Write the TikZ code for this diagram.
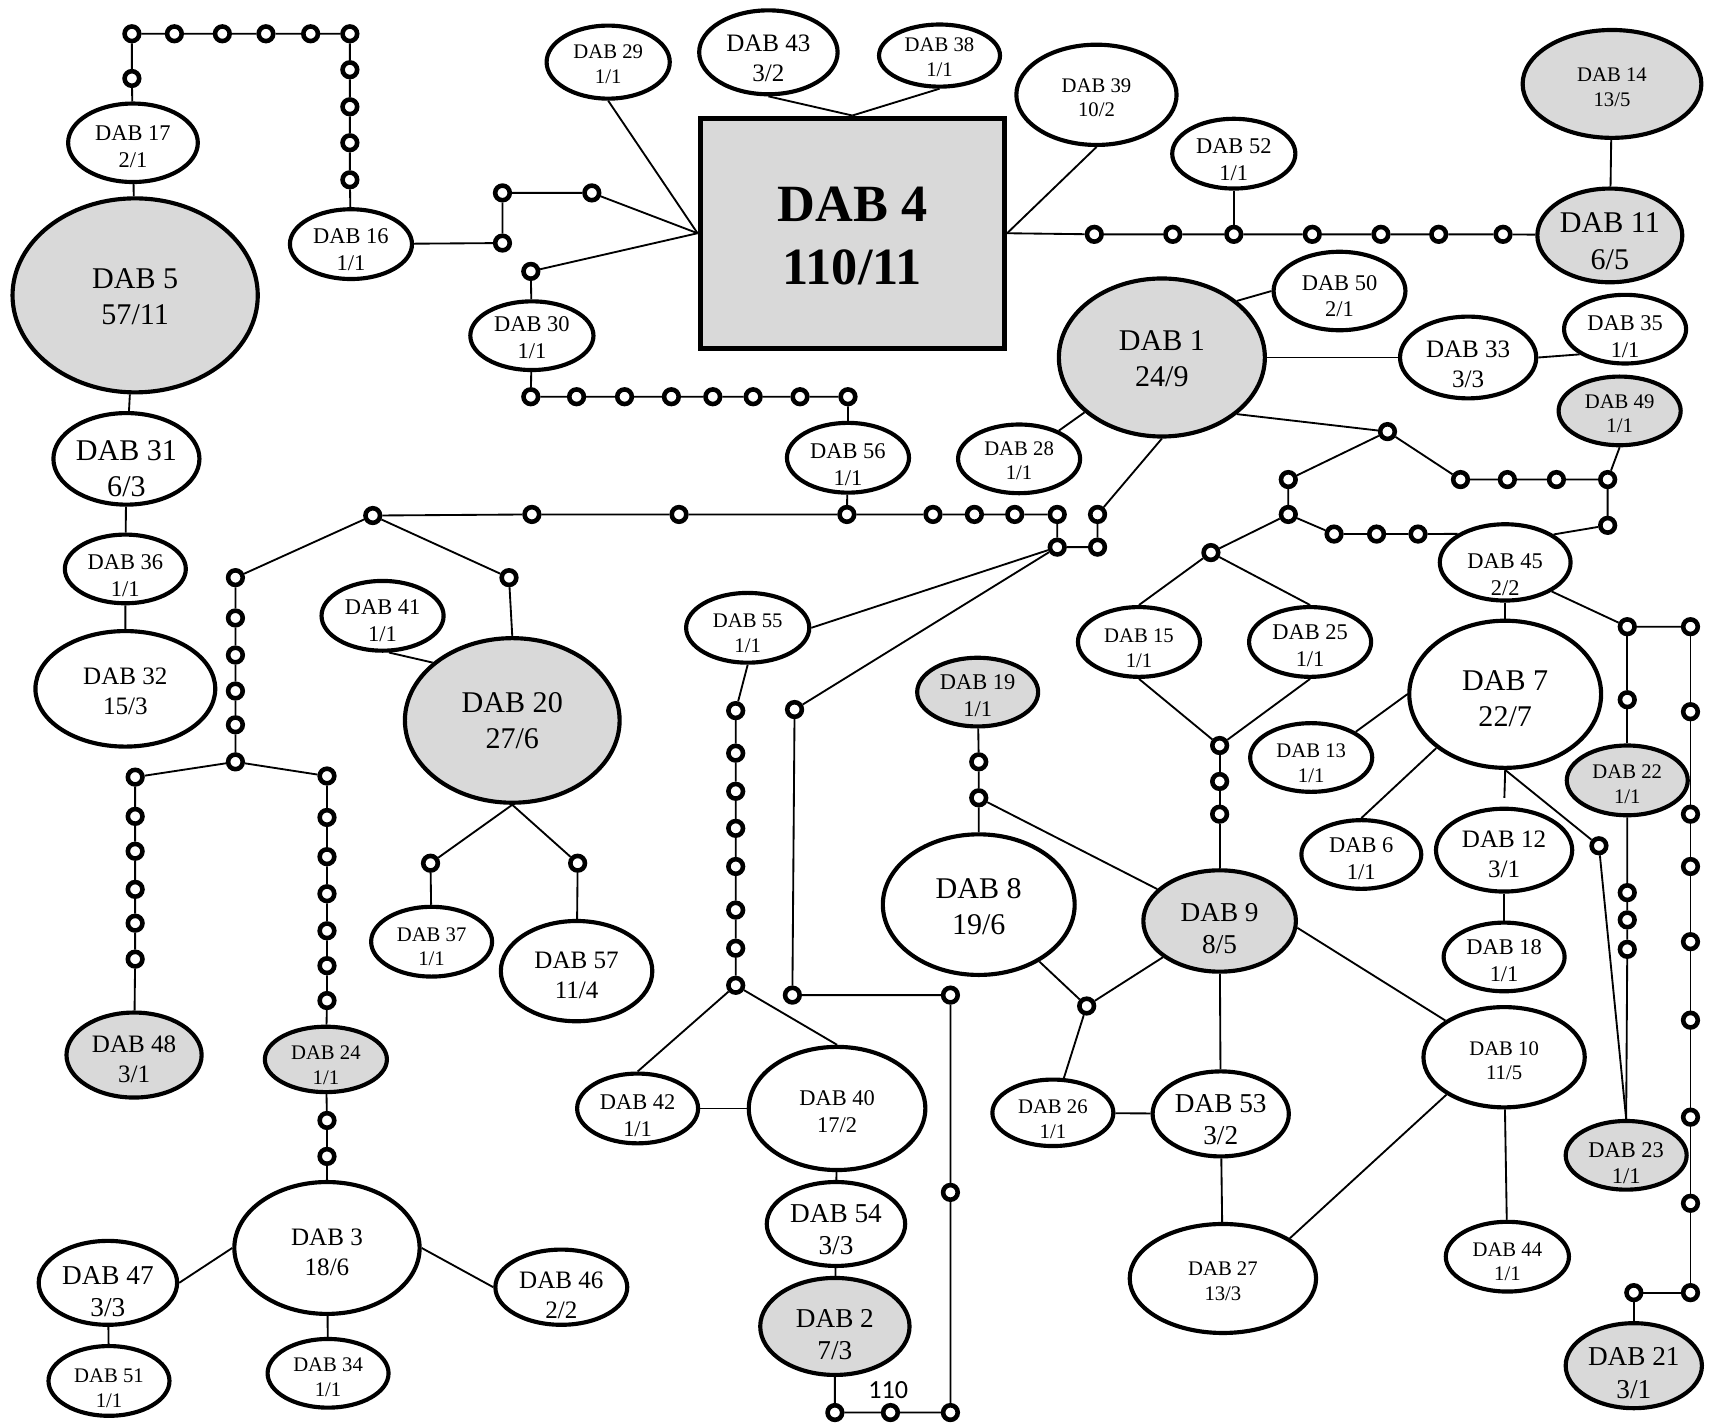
\documentclass[tikz,border=0pt]{standalone}
\usepackage{fontspec}
\setmainfont{Liberation Serif}
\newfontfamily\calib{Carlito}
\usetikzlibrary{shapes.geometric,backgrounds}
\definecolor{gfill}{RGB}{217,217,217}
% two centred lines; optional argument lowers the text (in pt)
\newcommand\tx[3][0]{\makebox[0pt]{\raisebox{\dimexpr0.5\baselineskip-0.335em-#1pt\relax}[0pt][0pt]{#2}}\makebox[0pt]{\raisebox{\dimexpr-0.5\baselineskip-0.335em-#1pt\relax}[0pt][0pt]{#3}}}
\begin{document}
\begin{tikzpicture}[x=0.5pt,y=-0.5pt,
  el/.style 2 args={ellipse, draw, line width=1.9pt, fill=white, inner sep=0pt,
     minimum width={(#1-3)*0.5pt}, minimum height={(#2-3)*0.5pt}},
  gr/.style={fill=gfill},
  mv/.style={circle, draw, line width=2.1pt, fill=white, inner sep=0pt, minimum size=6.7pt},
  ln/.style={line width=0.85pt},
  fA/.style={font=\fontsize{9.5}{11.4}\selectfont},
  fB/.style={font=\fontsize{10.3}{12.3}\selectfont},
  fC/.style={font=\fontsize{11.5}{13.8}\selectfont},
  fD/.style={font=\fontsize{12.5}{14.8}\selectfont},
  fE/.style={font=\fontsize{13.8}{16.6}\selectfont}]
\useasboundingbox (0,0) rectangle (1568,1310);

% ---------- haplotype nodes ----------
\node[draw, line width=2.3pt, fill=gfill, minimum width=139.7pt, minimum height=105.7pt, inner sep=0pt,
      font=\bfseries\fontsize{24}{29}\selectfont] (n4) at (782,214) {\tx[1]{DAB 4}{110/11}};
\node[el={122}{75},fB] (n17) at (122,131) {\tx[1.75]{DAB 17}{2/1}};
\node[el={228}{181},fE,gr] (n5) at (124,271) {\tx[0.5]{DAB 5}{57/11}};
\node[el={115}{67},fB] (n16) at (322,224) {\tx[2.5]{DAB 16}{1/1}};
\node[el={116}{66},fB] (n30) at (488,308) {\tx[1]{DAB 30}{1/1}};
\node[el={116}{70},fA] (n29) at (558,57) {\tx[0.75]{DAB 29}{1/1}};
\node[el={130}{80},fC] (n43) at (705,48) {\tx[2.5]{DAB 43}{3/2}};
\node[el={114}{60},fA] (n38) at (862,51) {\tx[0.75]{DAB 38}{1/1}};
\node[el={150}{95},fA] (n39) at (1006,87) {\tx[1.25]{DAB 39}{10/2}};
\node[el={116}{67},fB] (n52) at (1132,141) {\tx[2.75]{DAB 52}{1/1}};
\node[el={167}{102},fA,gr] (n14) at (1479,77) {\tx[1.5]{DAB 14}{13/5}};
\node[el={136}{89},fE,gr] (n11) at (1477,216) {\tx[2.5]{DAB 11}{6/5}};
\node[el={124}{75},fB] (n50) at (1229,267) {\tx[2.25]{DAB 50}{2/1}};
\node[el={192}{148},fE,gr] (n1) at (1066,328) {\tx[0.5]{DAB 1}{24/9}};
\node[el={128}{78},fC] (n33) at (1347,328) {\tx[3]{DAB 33}{3/3}};
\node[el={115}{66},fB] (n35) at (1491,302) {\tx[3.5]{DAB 35}{1/1}};
\node[el={115}{66},fA,gr] (n49) at (1486,377) {\tx[1.25]{DAB 49}{1/1}};
\node[el={115}{67},fB] (n56) at (778,420) {\tx[3]{DAB 56}{1/1}};
\node[el={115}{66},fA] (n28) at (935,421) {\tx[0.75]{DAB 28}{1/1}};
\node[el={137}{87},fE] (n31) at (116,421) {\tx[4.25]{DAB 31}{6/3}};
\node[el={114}{66},fB] (n36) at (115,522) {\tx[3]{DAB 36}{1/1}};
\node[el={168}{109},fC] (n32) at (115,632) {\tx[1]{DAB 32}{15/3}};
\node[el={115}{67},fB] (n41) at (351,565) {\tx[2.25]{DAB 41}{1/1}};
\node[el={200}{154},fE,gr] (n20) at (470,661) {\tx[0]{DAB 20}{27/6}};
\node[el={116}{67},fA] (n55) at (686,576) {\tx[2.25]{DAB 55}{1/1}};
\node[el={123}{73},fB] (n45) at (1381,516) {\tx[5.5]{DAB 45}{2/2}};
\node[el={115}{67},fA] (n15) at (1045,589) {\tx[2.75]{DAB 15}{1/1}};
\node[el={115}{67},fB] (n25) at (1202,589) {\tx[1.5]{DAB 25}{1/1}};
\node[el={179}{138},fE] (n7) at (1381,637) {\tx[1.75]{DAB 7}{22/7}};
\node[el={114}{66},fB,gr] (n19) at (897,635) {\tx[1.5]{DAB 19}{1/1}};
\node[el={115}{66},fA] (n13) at (1203,695) {\tx[2.5]{DAB 13}{1/1}};
\node[el={114}{67},fA,gr] (n22) at (1493,716) {\tx[1.75]{DAB 22}{1/1}};
\node[el={113}{66},fB] (n6) at (1249,784) {\tx[1.75]{DAB 6}{1/1}};
\node[el={128}{79},fC] (n12) at (1380,780) {\tx[2]{DAB 12}{3/1}};
\node[el={114}{66},fB] (n18) at (1380,878) {\tx[1.5]{DAB 18}{1/1}};
\node[el={179}{132},fE] (n8) at (898,830) {\tx[1]{DAB 8}{19/6}};
\node[el={143}{96},fD,gr] (n9) at (1119,845) {\tx[3.25]{DAB 9}{8/5}};
\node[el={114}{67},fA] (n37) at (396,864) {\tx[2.25]{DAB 37}{1/1}};
\node[el={142}{95},fC] (n57) at (529,891) {\tx[1.75]{DAB 57}{11/4}};
\node[el={127}{81},fC,gr] (n48) at (123,968) {\tx[1.75]{DAB 48}{3/1}};
\node[el={115}{63},fA,gr] (n24) at (299,972) {\tx[2.75]{DAB 24}{1/1}};
\node[el={151}{95},fA] (n10) at (1380,970) {\tx[1.5]{DAB 10}{11/5}};
\node[el={114}{67},fB] (n42) at (585,1017) {\tx[3.25]{DAB 42}{1/1}};
\node[el={165}{116},fB] (n40) at (768,1017) {\tx[1.5]{DAB 40}{17/2}};
\node[el={114}{64},fA] (n26) at (966,1021) {\tx[2.75]{DAB 26}{1/1}};
\node[el={128}{81},fD] (n53) at (1120,1022) {\tx[2.5]{DAB 53}{3/2}};
\node[el={114}{66},fB,gr] (n23) at (1492,1060) {\tx[3.5]{DAB 23}{1/1}};
\node[el={130}{80},fD] (n54) at (767,1123) {\tx[2.5]{DAB 54}{3/3}};
\node[el={173}{124},fC] (n3) at (300,1145) {\tx[2]{DAB 3}{18/6}};
\node[el={116}{67},fA] (n44) at (1383,1153) {\tx[2.25]{DAB 44}{1/1}};
\node[el={174}{103},fA] (n27) at (1122,1173) {\tx[1]{DAB 27}{13/3}};
\node[el={130}{80},fD] (n47) at (99,1177) {\tx[4]{DAB 47}{3/3}};
\node[el={124}{72},fC] (n46) at (515,1181) {\tx[3.5]{DAB 46}{2/2}};
\node[el={140}{92},fD,gr] (n2) at (766,1217) {\tx[3.75]{DAB 2}{7/3}};
\node[el={128}{81},fD,gr] (n21) at (1499,1253) {\tx[3.25]{DAB 21}{3/1}};
\node[el={114}{66},fA] (n34) at (301,1260) {\tx[1.75]{DAB 34}{1/1}};
\node[el={114}{67},fA] (n51) at (100,1267) {\tx[3.25]{DAB 51}{1/1}};
\node[font=\calib\fontsize{12}{14}\selectfont] (lab) at (815,1275) {110};

% ---------- median vectors ----------
\foreach \n/\x/\y in {t1/121/72,t2/121/31,t3/160/31,t4/204/31,t5/244/31,t6/285/31,t7/321/31,
  t8/321/64,t9/321/98,t10/321/131,t11/321/165,
  u1/461/223,u2/461/177,u3/543/177,u4/487/249,
  v1/487/364,v2/529/364,v3/573/364,v4/616/364,v5/654/364,v6/691/364,v7/734/364,v8/778/364,
  w1/342/473,w2/488/472,w3/623/472,w4/777/472,w5/856/472,w6/894/472,w7/931/472,w8/970/472,
  w9/1007/472,w10/970/502,w11/1007/502,
  L1/216/530,L2/216/567,L3/216/601,L4/216/634,L5/216/665,L6/216/699,
  La1/124/713,La2/124/749,La3/124/781,La4/124/816,La5/124/847,La6/124/880,
  Lb1/300/712,Lb2/300/750,Lb3/300/786,Lb4/300/820,Lb5/300/854,Lb6/300/886,Lb7/300/918,
  Lc1/300/1028,Lc2/300/1061,
  p1/467/530,p2/395/792,p3/530/792,
  m1/675/652,m2/675/691,m3/675/726,m4/675/760,m5/675/795,m6/675/835,m7/675/870,m8/675/904,
  k1/729/651,k2/727/913,k3/872/913,k4/872/1094,k5/872/1296,k6/817/1296,k7/766/1296,
  r1/1004/215,r2/1076/215,r3/1132/215,r4/1204/215,r5/1267/215,r6/1320/215,r7/1379/215,
  s1/1273/396,s2/1182/440,s3/1340/440,s4/1383/440,s5/1428/440,s6/1475/440,s7/1475/482,
  s8/1182/472,s9/1224/490,s10/1263/490,s11/1301/490,s12/1111/507,
  q1/1119/684,q2/1119/717,q3/1119/747,
  g1/898/699,g2/898/732,g3/997/923,
  x1/1493/575,x2/1551/575,x3/1493/642,x4/1551/653,x5/1551/747,x6/1551/795,x7/1551/864,
  x8/1551/936,x9/1551/1025,x10/1551/1104,x11/1551/1186,x12/1499/1186,
  y1/1467/776,y2/1493/819,y3/1493/844,y4/1493/871}
  {\node[mv] (\n) at (\x,\y) {};}

% ---------- connectors ----------
\begin{pgfonlayer}{background}
\draw[ln] (n17) -- (t1) -- (t2) -- (t3) -- (t4) -- (t5) -- (t6) -- (t7) -- (t8) -- (t9) -- (t10) -- (t11) -- (n16);
\draw[ln] (n17) -- (n5);
\draw[ln] (n5) -- (n31) -- (n36) -- (n32);
\draw[ln] (n16) -- (u1) -- (u2) -- (u3) -- (n4.west);
\draw[ln] (n30) -- (u4) -- (n4.west);
\draw[ln] (n29.south) -- (n4.west);
\draw[ln] (n43.south) -- (n4.north);
\draw[ln] (n38.south) -- (n4.north);
\draw[ln] (n39.south) -- (n4.east);
\draw[ln] (n4.east) -- (r1) -- (r2) -- (r3) -- (r4) -- (r5) -- (r6) -- (r7) -- (n11);
\draw[ln] (n52) -- (r3);
\draw[ln] (n14) -- (n11);
\draw[ln] (n30) -- (v1) -- (v2) -- (v3) -- (v4) -- (v5) -- (v6) -- (v7) -- (v8) -- (n56);
\draw[ln] (n56) -- (w4);
\draw[ln] (w1) -- (w2) -- (w3) -- (w4) -- (w5) -- (w6) -- (w7) -- (w8) -- (w10) -- (w11) -- (w9) -- (n1.south);
\draw[ln] (n28) -- (n1);
\draw[ln] (n1.37) -- (n50.west);
\draw[ln] (n1.east) -- (n33.west);
\draw[ln] (n33.east) -- (n35.209);
\draw[ln] (n1.-37) -- (s1);
\draw[ln] (s2) -- (s1) -- (s3) -- (s4) -- (s5) -- (s6) -- (s7) -- (n45.30);
\draw[ln] (n49.south) -- (s6);
\draw[ln] (s2) -- (s8) -- (s9) -- (s10) -- (s11) -- (n45.149);
\draw[ln] (s8) -- (s12);
\draw[ln] (s12) -- (n15.north);
\draw[ln] (s12) -- (n25.north);
\draw[ln] (n15.south) -- (q1);
\draw[ln] (n25.south) -- (q1);
\draw[ln] (q1) -- (q2) -- (q3) -- (n9.north);
\draw[ln] (n45.south) -- (n7.north);
\draw[ln] (n45.-32) -- (x1) -- (x2);
\draw[ln] (x1) -- (x3) -- (n22.north);
\draw[ln] (n22.south) -- (y2) -- (y3) -- (y4) -- (n23.north);
\draw[ln] (n7.south) -- (y1) -- (n23.north);
\draw[ln] (x2) -- (x4) -- (x5) -- (x6) -- (x7) -- (x8) -- (x9) -- (x10) -- (x11) -- (x12) -- (n21.north);
\draw[ln] (n7.west) -- (n13.30);
\draw[ln] (n7.218) -- (n6.north);
\draw[ln, shorten >=4pt] (n7.south) -- (n12.north);
\draw[ln] (n12) -- (n18);
\draw[ln] (n10) -- (n44);
\draw[ln] (n9.-5) -- (n10.148);
\draw[ln] (n10.213) -- (n27.31);
\draw[ln] (n9) -- (n53) -- (n27);
\draw[ln] (n26) -- (n53);
\draw[ln] (n19) -- (g1) -- (g2) -- (n8);
\draw[ln] (g2) -- (n9);
\draw[ln] (n8) -- (g3) -- (n9);
\draw[ln] (g3) -- (n26);
\draw[ln] (w10) -- (n55.east);
\draw[ln] (w10) -- (k1) -- (k2) -- (k3) -- (k4) -- (k5) -- (k6) -- (k7) -- (n2);
\draw[ln] (n55.south) -- (m1) -- (m2) -- (m3) -- (m4) -- (m5) -- (m6) -- (m7) -- (m8);
\draw[ln] (m8) -- (n42.north);
\draw[ln] (m8) -- (n40.north);
\draw[ln] (n42) -- (n40);
\draw[ln] (n40) -- (n54) -- (n2);
\draw[ln] (w1) -- (L1) -- (L2) -- (L3) -- (L4) -- (L5) -- (L6);
\draw[ln] (w1) -- (p1) -- (n20.north);
\draw[ln] (L6) -- (La1) -- (La2) -- (La3) -- (La4) -- (La5) -- (La6) -- (n48);
\draw[ln] (L6) -- (Lb1) -- (Lb2) -- (Lb3) -- (Lb4) -- (Lb5) -- (Lb6) -- (Lb7) -- (n24);
\draw[ln] (n24) -- (Lc1) -- (Lc2) -- (n3);
\draw[ln] (n3.west) -- (n47.east);
\draw[ln] (n47) -- (n51);
\draw[ln] (n3) -- (n34);
\draw[ln] (n3.east) -- (n46.west);
\draw[ln] (n20.south) -- (p2) -- (n37);
\draw[ln] (n20.south) -- (p3) -- (n57);
\draw[ln] (n41.-80) -- (n20.144);
\end{pgfonlayer}
\end{tikzpicture}
\end{document}
